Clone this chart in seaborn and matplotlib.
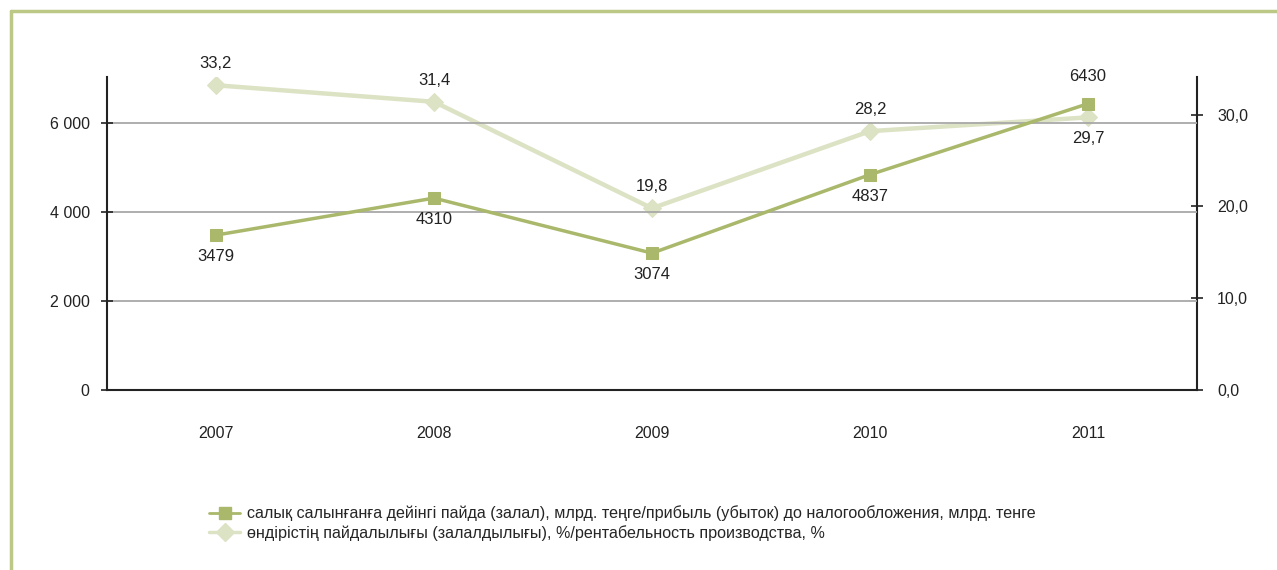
import numpy as np
import pandas as pd
import matplotlib
matplotlib.use("Agg")
import matplotlib.pyplot as plt
from matplotlib.lines import Line2D
from matplotlib.ticker import FuncFormatter, FixedLocator
import seaborn as sns

# Data
years = ["2007", "2008", "2009", "2010", "2011"]
profit = [3479, 4310, 3074, 4837, 6430]
profitability = [33.2, 31.4, 19.8, 28.2, 29.7]
profit_label_pos = ["below", "below", "below", "below", "above"]
rate_label_pos = ["above", "above", "above", "above", "below"]

label_profit = "салық салынғанға дейінгі пайда (залал), млрд. теңге/прибыль (убыток) до налогообложения, млрд. тенге"
label_rate = "өндірістің пайдалылығы (залалдылығы), %/рентабельность производства, %"

sns.set_theme(style="white")
plt.rcParams['font.family'] = ['Liberation Sans', 'DejaVu Sans']

GREEN = '#a9b86b'
LIGHT = '#dce2c4'
BORDER = '#bcc886'
TXT = '#222222'

df = pd.DataFrame({'idx': np.arange(len(years)), 'year': years,
                   'profit': profit, 'rate': profitability})

fig = plt.figure(figsize=(12.77, 5.70), dpi=100)
ax = fig.add_axes([107 / 1277, 1 - 390 / 570, (1197 - 107) / 1277, (390 - 77) / 570])
ax2 = ax.twinx()

sns.lineplot(data=df, x='idx', y='rate', ax=ax2, color=LIGHT, linewidth=3.2,
             marker='D', markersize=9.5, markeredgecolor=LIGHT, zorder=3)
sns.lineplot(data=df, x='idx', y='profit', ax=ax, color=GREEN, linewidth=2.5,
             marker='s', markersize=9, markeredgecolor=GREEN, zorder=4)
# keep profit line on top of the rate line
ax.set_zorder(ax2.get_zorder() + 1)
ax.patch.set_visible(False)

ax.set_xlim(-0.5, len(years) - 0.5)
ax.set_ylim(0, 7030)
ax2.set_ylim(0, 34.1)

ax.yaxis.set_major_locator(FixedLocator([0, 2000, 4000, 6000]))
ax.yaxis.set_major_formatter(FuncFormatter(lambda v, p: f"{int(v):,}".replace(",", " ")))
ax2.yaxis.set_major_locator(FixedLocator([0, 10, 20, 30]))
ax2.yaxis.set_major_formatter(FuncFormatter(lambda v, p: f"{v:.1f}".replace(".", ",")))

ax.set_xticks(df['idx'])
ax.set_xticklabels(years)
ax.set_xticks(np.arange(-0.5, len(years)), minor=True)
ax.tick_params(axis='x', which='major', length=0, pad=26, labelsize=11.5, colors=TXT)
ax.tick_params(axis='x', which='minor', direction='inout', length=9, width=1.2, color=TXT)
ax.tick_params(axis='y', direction='inout', length=9, width=1.2, pad=8, labelsize=11.5,
               left=True, colors=TXT)
ax2.tick_params(axis='y', direction='inout', length=9, width=1.2, pad=10, labelsize=11.5,
                right=True, colors=TXT)

ax.grid(axis='y', color='#a8a8a8', linewidth=1.3)
ax.set_axisbelow(True)
ax.set_xlabel('')
ax.set_ylabel('')
ax2.set_ylabel('')

for a in (ax, ax2):
    a.spines['top'].set_visible(False)
    for s in ('left', 'right', 'bottom'):
        a.spines[s].set_color(TXT)
        a.spines[s].set_linewidth(1.5)
ax.spines['right'].set_visible(False)
ax2.spines['left'].set_visible(False)
ax2.spines['bottom'].set_visible(False)

# Data labels
for i, (v, pos) in enumerate(zip(profit, profit_label_pos)):
    off = 14 if pos == "above" else -10
    ax.annotate(str(v), (i, v), textcoords='offset points', xytext=(0, off),
                ha='center', va='bottom' if pos == "above" else 'top', fontsize=12, color=TXT)
for i, (v, pos) in enumerate(zip(profitability, rate_label_pos)):
    off = 10 if pos == "above" else -10
    ax2.annotate(f"{v:.1f}".replace(".", ","), (i, v), textcoords='offset points', xytext=(0, off),
                 ha='center', va='bottom' if pos == "above" else 'top', fontsize=12, color=TXT)

# Legend
handles = [Line2D([], [], color=GREEN, linewidth=2.0, marker='s', markersize=9),
           Line2D([], [], color=LIGHT, linewidth=2.5, marker='D', markersize=9.5)]
fig.legend(handles, [label_profit, label_rate], loc='upper left',
           bbox_to_anchor=(203 / 1277, 1 - 499 / 570), frameon=False, fontsize=11.6,
           handlelength=1.9, labelspacing=0.22, handletextpad=0.45, borderaxespad=0)

# Frame border (top and left)
fig.add_artist(Line2D([11 / 1277, 11 / 1277], [0, 1 - 11 / 570], color=BORDER, linewidth=2.5,
                      transform=fig.transFigure))
fig.add_artist(Line2D([11 / 1277, 1], [1 - 11 / 570, 1 - 11 / 570], color=BORDER, linewidth=2.5,
                      transform=fig.transFigure))

fig.savefig("out.png", dpi=100)
